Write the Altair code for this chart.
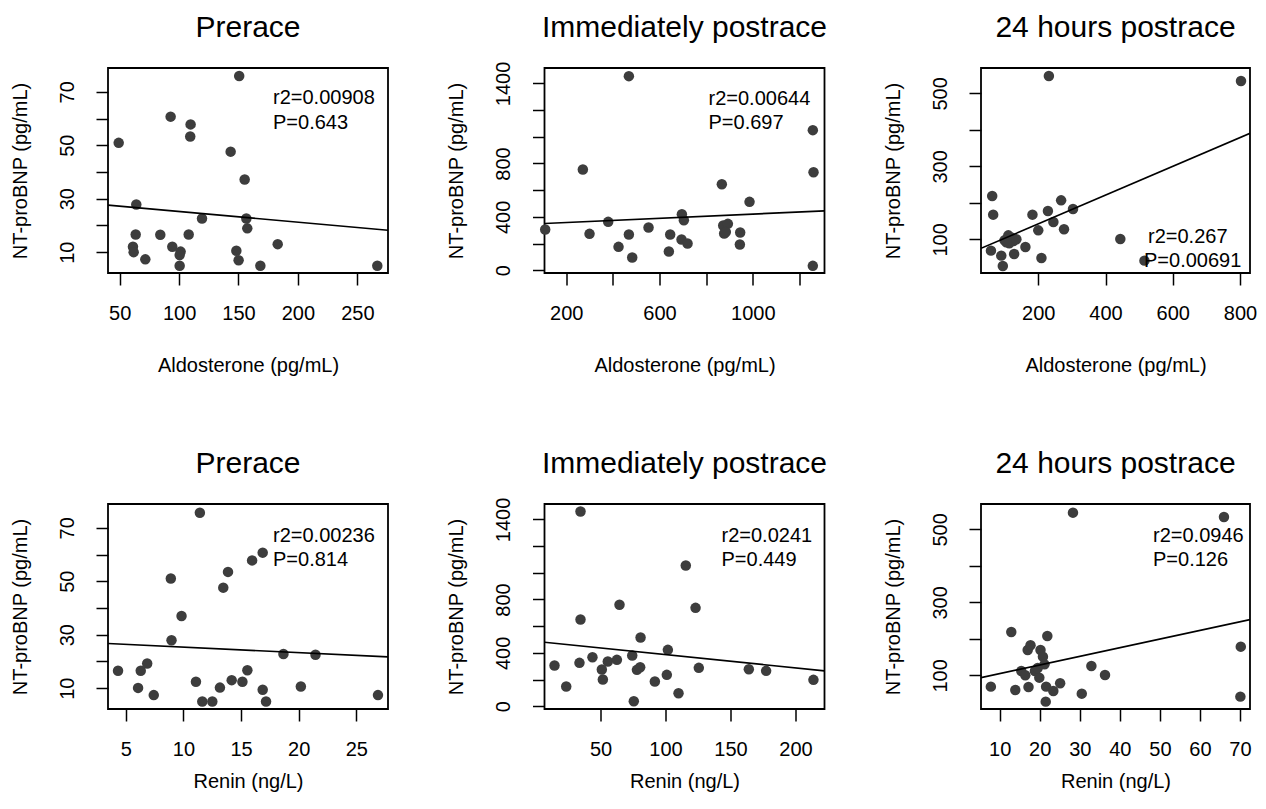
import json
import altair as alt
import pandas as pd

FONT = "Liberation Sans"
PT_COLOR = "#3d3d3d"

# ---------------- data ----------------
titles = ["Prerace", "Immediately postrace", "24 hours postrace"]
x_titles = ["Aldosterone (pg/mL)", "Renin (ng/L)"]
y_title = "NT-proBNP (pg/mL)"

# Row 1: aldosterone
pre_aldo_x = [49.2, 92.9, 109.7, 109.4, 150.6, 143.4, 155.2, 64.0, 119.3, 156.6, 157.4, 63.5, 84.2,
              108.1, 61.2, 61.8, 71.6, 94.3, 101.3, 100.5, 100.5, 148.2, 150.1, 168.4, 183.0, 266.8]
pre_aldo_y = [50.9, 60.7, 57.8, 53.3, 75.9, 47.6, 37.2, 27.8, 22.6, 22.6, 18.9, 16.6, 16.5,
              16.6, 12.0, 10.0, 7.3, 12.0, 10.2, 8.9, 4.9, 10.5, 7.0, 4.9, 13.0, 4.9]
post_aldo_x = [468.6, 271.4, 110, 300, 380, 424.3, 468.6, 482.9, 552.9, 640, 645.7, 695.7, 704.3,
               694.3, 720, 867, 872.9, 892.9, 877, 884, 985.7, 945.7, 944.3, 1257, 1260, 1257]
post_aldo_y = [1455, 755, 305, 272.5, 362.5, 175, 267.5, 95, 320, 140, 267.5, 420, 375,
               230, 200, 645, 335, 347.5, 275, 287, 512.5, 282.5, 192.5, 1050, 735, 32.5]
h24_aldo_x = [231.6, 802.9, 63.0, 65.9, 182.7, 228.7, 268.0, 303.3, 200.0, 245.0, 276.6, 110.9, 126.2,
              99.5, 113.8, 59.3, 90.0, 94.6, 128.2, 161.8, 209.4, 444, 515.8, 120, 105, 135]
h24_aldo_y = [547.5, 533.8, 218.6, 167.6, 167.6, 177.5, 206.8, 183.0, 124.6, 147.4, 127.4, 110.9, 95.3,
              97.2, 89, 69, 55.3, 26.8, 59.7, 78.9, 48.7, 100.9, 41.6, 105, 92, 100]

# Row 2: renin
pre_renin_x = [4.33, 6.07, 6.3, 6.86, 7.43, 8.91, 8.97, 9.84, 11.09, 11.43, 11.64, 12.51, 13.17,
               13.46, 13.87, 14.19, 15.12, 15.55, 15.96, 16.88, 16.88, 17.17, 18.68, 20.19, 21.46, 26.88]
pre_renin_y = [16.5, 10.1, 16.5, 19.2, 7.4, 51, 27.9, 37, 12.4, 75.6, 5.0, 5.0, 10.2,
               47.6, 53.5, 13, 12.4, 16.7, 57.8, 60.7, 9.4, 5.0, 22.8, 10.6, 22.5, 7.4]
post_renin_x = [34.6, 34.6, 33.8, 14.6, 23.6, 43.8, 51, 51.8, 55.6, 62.6, 64.6, 74.4, 78,
                80.5, 80.8, 75.6, 91.8, 101, 101.8, 110, 115.6, 123.1, 125.6, 164.1, 177.4, 213.8]
post_renin_y = [1460, 650, 325, 305, 147.5, 367.5, 275, 200, 335, 347.5, 760, 380, 272.5,
                292.5, 515, 37.5, 185, 235, 422.5, 97.5, 1055, 737.5, 287.5, 277.5, 265, 197.5]
h24_renin_x = [28.3, 66, 70.2, 70.1, 7.8, 12.9, 13.9, 17, 17.7, 20.2, 20.8, 21.9, 21.2,
               15.4, 16.4, 17.2, 18.8, 19.9, 21.6, 23.4, 21.5, 25.1, 30.5, 32.9, 36.3, 19.5]
h24_renin_y = [545.7, 533.8, 178.5, 41.6, 69, 218.7, 59.8, 169.4, 182.2, 169.4, 151.1, 207.8, 130,
               111.9, 100, 68, 111.9, 93.6, 69, 57.1, 27.9, 78.1, 49.8, 125.6, 100.9, 120]

# regression line end points (x at panel edges, fitted y)
pre_aldo_fit_x, pre_aldo_fit_y = [40.2, 275.8], [27.6, 18.2]
post_aldo_fit_x, post_aldo_fit_y = [107, 1307], [350, 445]
h24_aldo_fit_x, h24_aldo_fit_y = [29.7, 829.7], [75.3, 390.4]
pre_renin_fit_x, pre_renin_fit_y = [3.46, 27.75], [26.7, 21.7]
post_renin_fit_x, post_renin_fit_y = [6.9, 222.3], [480, 265]
h24_renin_fit_x, h24_renin_fit_y = [5.34, 72.5], [93.6, 252.5]

stats_r2 = ["r2=0.00908", "r2=0.00644", "r2=0.267", "r2=0.00236", "r2=0.0241", "r2=0.0946"]
stats_p = ["P=0.643", "P=0.697", "P=0.00691", "P=0.814", "P=0.449", "P=0.126"]

# axis domains and ticks
x_domains = [[40.2, 275.8], [107, 1307], [29.7, 829.7], [3.46, 27.75], [6.9, 222.3], [5.34, 72.5]]
y_domains = [[2.2, 78.9], [-21, 1516], [7.7, 569.4]]
x_ticks = [[50, 100, 150, 200, 250], [200, 400, 600, 800, 1000, 1200], [200, 400, 600, 800],
           [5, 10, 15, 20, 25], [50, 100, 150, 200], [10, 20, 30, 40, 50, 60, 70]]
x_tick_labels = [[50, 100, 150, 200, 250], [200, 600, 1000], [200, 400, 600, 800],
                 [5, 10, 15, 20, 25], [50, 100, 150, 200], [10, 20, 30, 40, 50, 60, 70]]
y_ticks = [[10, 20, 30, 40, 50, 60, 70], [0, 200, 400, 600, 800, 1000, 1200, 1400],
           [100, 200, 300, 400, 500]]
y_tick_labels = [[10, 30, 50, 70], [0, 400, 800, 1400], [100, 300, 500]]

# ---------------- layout (pixels) ----------------
PANEL_W = [280, 280, 269]
PANEL_H = 205
COL_GAP = 156.5
ROW_PITCH = 436
TITLE_BASELINE = -31
X_TITLE_PAD = [32, 12]
ANN_POS = [  # (x, y_r2, x_p, y_p) relative to plot area
    (165, 30, 165, 55), (164, 31, 164, 55), (167, 169, 163, 193),
    (165, 32, 165, 56), (177, 32, 177, 56), (172, 32, 172, 56),
]

xs_all = [pre_aldo_x, post_aldo_x, h24_aldo_x, pre_renin_x, post_renin_x, h24_renin_x]
ys_all = [pre_aldo_y, post_aldo_y, h24_aldo_y, pre_renin_y, post_renin_y, h24_renin_y]
fx_all = [pre_aldo_fit_x, post_aldo_fit_x, h24_aldo_fit_x, pre_renin_fit_x, post_renin_fit_x, h24_renin_fit_x]
fy_all = [pre_aldo_fit_y, post_aldo_fit_y, h24_aldo_fit_y, pre_renin_fit_y, post_renin_fit_y, h24_renin_fit_y]


def label_expr(shown):
    return "indexof(%s, datum.value) >= 0 ? datum.label : ''" % json.dumps(shown)


def text_layer(txt, x, y, size, align, baseline):
    return alt.Chart(pd.DataFrame({"t": [txt]})).mark_text(
        align=align, baseline=baseline, font=FONT, fontSize=size, color="black"
    ).encode(text="t:N", x=alt.value(x), y=alt.value(y))


def panel(i):
    col = i % 3
    row = i // 3
    xsc = alt.Scale(domain=x_domains[i], nice=False, zero=False)
    ysc = alt.Scale(domain=y_domains[col], nice=False, zero=False)
    xaxis = alt.Axis(values=x_ticks[i], tickCount=30, format="d",
                     labelExpr=label_expr(x_tick_labels[i]), title=x_titles[row],
                     titlePadding=X_TITLE_PAD[row])
    yaxis = alt.Axis(values=y_ticks[col], tickCount=30, format="d",
                     labelExpr=label_expr(y_tick_labels[col]), title=y_title)

    pts = pd.DataFrame({"x": xs_all[i], "y": ys_all[i]})
    fit = pd.DataFrame({"x": fx_all[i], "y": fy_all[i]})

    points = alt.Chart(pts).mark_circle(size=110, color=PT_COLOR, opacity=1).encode(
        x=alt.X("x:Q", scale=xsc, axis=xaxis),
        y=alt.Y("y:Q", scale=ysc, axis=yaxis),
    )
    line = alt.Chart(fit).mark_line(color="black", strokeWidth=1.6, clip=True).encode(
        x=alt.X("x:Q", scale=xsc),
        y=alt.Y("y:Q", scale=ysc),
    )
    ax, ay, px, py = ANN_POS[i]
    t1 = text_layer(stats_r2[i], ax, ay, 20, "left", "middle")
    t2 = text_layer(stats_p[i], px, py, 20, "left", "middle")
    ttl = text_layer(titles[col], PANEL_W[col] / 2, TITLE_BASELINE, 30, "center", "alphabetic")

    return alt.layer(points, line, t1, t2, ttl).properties(
        width=PANEL_W[col], height=PANEL_H,
    )


row1 = alt.hconcat(panel(0), panel(1), panel(2), spacing=COL_GAP, bounds="flush")
row2 = alt.hconcat(panel(3), panel(4), panel(5), spacing=COL_GAP, bounds="flush")

# with flush bounds the rows count as zero-height, so spacing = row pitch.
# fixed-size canvas: top-left plot area at (100, 60), canvas 1250 x 789
chart = alt.vconcat(row1, row2, spacing=ROW_PITCH, bounds="flush").properties(
    autosize=alt.AutoSizeParams(type="none"),
    padding={"left": 100, "top": 60, "right": 1150, "bottom": 729},
    background="white",
).configure_view(
    stroke="black", strokeWidth=1.8
).configure_axis(
    domain=False, grid=False, tickColor="black", tickSize=12, tickWidth=1.5,
    labelFont=FONT, labelFontSize=20, labelColor="black",
    titleFont=FONT, titleFontSize=20, titleFontWeight="normal", titleColor="black",
    labelFlush=False, labelOverlap=False, labelBound=False,
).configure_axisX(
    labelPadding=18,
).configure_axisY(
    labelAngle=270, labelAlign="center", labelBaseline="bottom", labelPadding=19, titlePadding=27,
)

chart.save("out.html", embed_options={"renderer": "svg", "actions": False})
